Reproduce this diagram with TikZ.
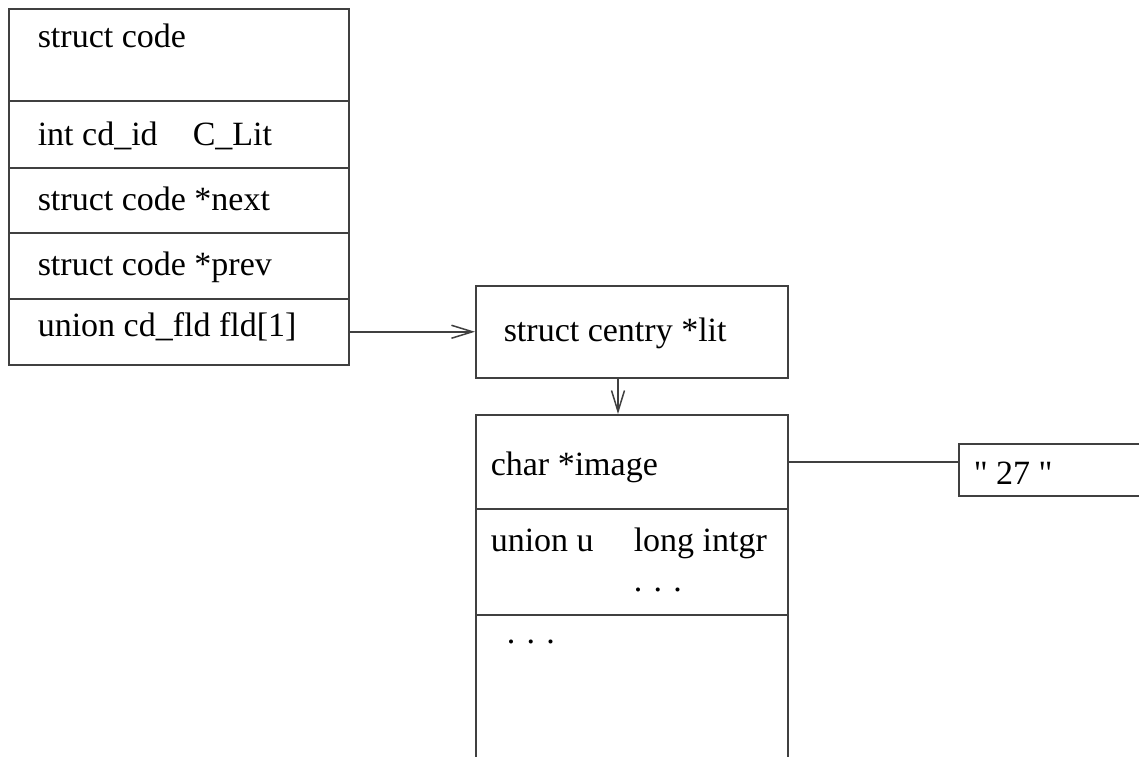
\documentclass[tikz,border=0pt]{standalone}
\usepackage{fontspec}
\setmainfont{Liberation Serif}
\newfontfamily\strfont{Liberation Serif}
\usetikzlibrary{arrows.meta,positioning}

\begin{document}
\begin{tikzpicture}[x=1pt,y=-1pt,
    line width=1.5pt, draw=black!75,
    cell/.style={draw=black!75, rectangle, inner sep=0pt, anchor=north west},
    txt/.style={anchor=base west, inner sep=0pt, font=\fontsize{34}{40}\selectfont},
    ptr/.style={-{Straight Barb[length=21pt,width=13pt,line width=1.5pt]}}]
  \useasboundingbox (0,0) rectangle (1139,756);
  \clip (0,0) rectangle (1139,756);
  % struct code
  \node[cell, minimum width=340, minimum height=92] (hdr)  at (8,8)   {};
  \node[cell, minimum width=340, minimum height=67] (cdid) at (8,100) {};
  \node[cell, minimum width=340, minimum height=65] (next) at (8,167) {};
  \node[cell, minimum width=340, minimum height=66] (prev) at (8,232) {};
  \node[cell, minimum width=340, minimum height=66] (fld)  at (8,298) {};
  \node[txt] (thdr)  at (37,47)  {struct code};
  \node[txt] (tcdid) at (37,145) {int cd\_id};
  \node[txt] (tclit) at (192,145) {C\_Lit};
  \node[txt] (tnext) at (37,210) {struct code *next};
  \node[txt] (tprev) at (37,275) {struct code *prev};
  \node[txt] (tfld)  at (37,336) {union cd\_fld fld[1]};
  % struct centry
  \node[cell, minimum width=312, minimum height=92] (centry) at (475,285) {};
  \node[txt] (tcentry) at (503,341) {struct centry *lit};
  % literal
  \node[cell, minimum width=312, minimum height=94]  (image) at (475,414) {};
  \node[cell, minimum width=312, minimum height=106] (u)     at (475,508) {};
  \node[cell, minimum width=312, minimum height=160] (rest)  at (475,614) {};
  \node[txt] (timage) at (490,475) {char *image};
  \node[txt] (tu)     at (490,551) {union u};
  \node[txt] (tintgr) at (633,551) {long intgr};
  \node[txt] (tdots)  at (633,591) {. . .};
  \node[txt] (tmore)  at (506,643) {. . .};
  % string
  \node[cell, minimum width=220, minimum height=52] (str) at (958,443) {};
  \node[txt] (tstr) at (973,484) {\strfont " 27 "};
  % pointers
  \draw[ptr] (fld.east) -- (fld.east -| centry.west);
  \draw[ptr] (centry.south -| 618,0) -- (image.north -| 618,0);
  \draw (image.east |- 0,462) -- (str.west |- 0,462);
\end{tikzpicture}
\end{document}
